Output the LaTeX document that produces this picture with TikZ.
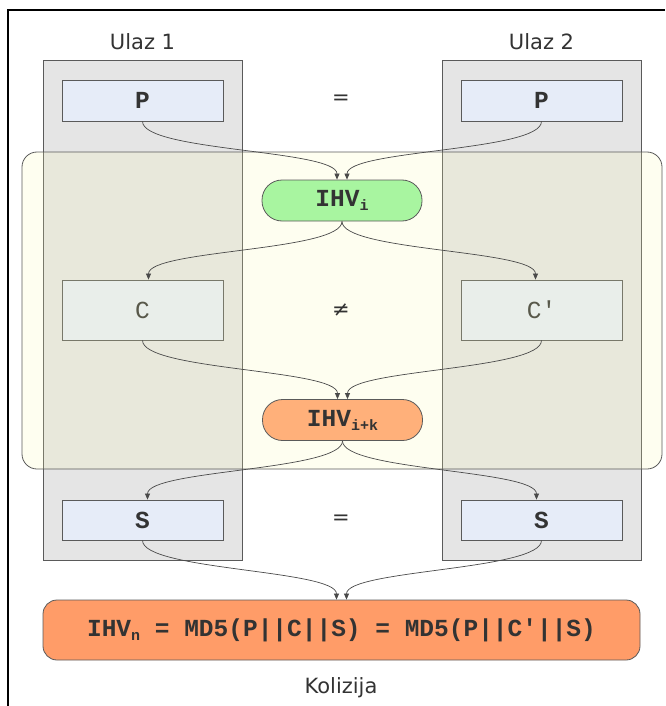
\documentclass[tikz,border=0pt]{standalone}
\usepackage{fontspec}
\setmainfont{DejaVu Sans}
\newfontfamily\monof{Liberation Mono}
\usetikzlibrary{arrows.meta}
\definecolor{colgray}{HTML}{E5E5E5}
\definecolor{linegray}{HTML}{5A5A5A}
\definecolor{edgegray}{HTML}{4A4A4A}
\definecolor{boxblue}{HTML}{E6ECF8}
\definecolor{ylw}{HTML}{FAFAB0}
\definecolor{greenfill}{HTML}{A8F5A0}
\definecolor{orangeA}{HTML}{FFB07A}
\definecolor{orangeB}{HTML}{FF9C68}
\definecolor{txt}{HTML}{333333}
\newcommand\sbs[1]{\raisebox{-4pt}{\fontsize{15}{15}\selectfont #1}}
\tikzset{
  colbox/.style={draw=linegray, fill=colgray, line width=0.8pt, minimum width=199pt, minimum height=500pt, inner sep=0pt},
  databox/.style={draw=linegray, fill=boxblue, line width=0.8pt, minimum width=161pt, inner sep=0pt,
     text=txt, font=\monof\fontsize{24.5}{26}\selectfont},
  ihvbox/.style={draw=linegray, line width=0.8pt, rounded corners=20pt, minimum width=160pt, minimum height=41pt,
     inner sep=0pt, text=txt, font=\monof\bfseries\fontsize{24.5}{26}\selectfont},
  lbl/.style={font=\fontsize{21}{24}\selectfont, text=txt, inner sep=0pt},
  arr/.style={draw=edgegray, line width=0.7pt, -{Triangle[length=6pt,width=5pt]}}
}
\begin{document}
\begin{tikzpicture}[x=1pt,y=-1pt]
\useasboundingbox (0,0) rectangle (665,706);
% outer frame
\draw[line width=2pt, black] (8,706) -- (8,10) -- (665,10);
% columns
\node[colbox] (col1) at (142.5,310) {};
\node[colbox] (col2) at (541.5,310) {};
% data boxes
\node[databox, minimum height=41pt, font=\monof\bfseries\fontsize{24.5}{26}\selectfont] (p1) at (142.5,100.5) {P};
\node[databox, minimum height=41pt, font=\monof\bfseries\fontsize{24.5}{26}\selectfont] (p2) at (541.5,100.5) {P};
\node[databox, minimum height=60pt] (c1) at (142.5,310) {C};
\node[databox, minimum height=60pt] (c2) at (541.5,310) {C′};
\node[databox, minimum height=40pt, font=\monof\bfseries\fontsize{24.5}{26}\selectfont] (s1) at (142.5,520) {S};
\node[databox, minimum height=40pt, font=\monof\bfseries\fontsize{24.5}{26}\selectfont] (s2) at (541.5,520) {S};
% yellow overlay
\node[draw=linegray, line width=0.8pt, fill=ylw, fill opacity=0.19, rounded corners=15pt,
      minimum width=640pt, minimum height=317pt, inner sep=0pt] (round) at (342,310.5) {};
% IHV nodes
\node[ihvbox, fill=greenfill] (ihvi) at (342,200.5) {IHV\sbs{i}};
\node[ihvbox, fill=orangeA] (ihvk) at (342.5,420) {IHV\sbs{i+k}};
\node[ihvbox, fill=orangeB, rounded corners=14pt, minimum width=597pt, minimum height=60pt] (fin) at (341.5,630)
  {IHV\sbs{n} = MD5(P||C||S) = MD5(P||C′||S)};
% labels
\node[lbl, anchor=base] (u1) at (142.5,50) {Ulaz 1};
\node[lbl, anchor=base] (u2) at (541.5,50) {Ulaz 2};
\node[lbl] (eq1) at (341,100) {=};
\node[lbl] (neq) at (341,310) {≠};
\node[lbl] (eq2) at (341,520) {=};
\node[lbl, anchor=base] (kol) at (341,693) {Kolizija};
% edges
\draw[arr] (p1.south) .. controls +(0,30) and +(0,-30) .. ([xshift=-5pt]ihvi.north);
\draw[arr] (p2.south) .. controls +(0,30) and +(0,-30) .. ([xshift=5pt]ihvi.north);
\draw[arr] (ihvi.south) .. controls +(0,30) and +(0,-30) .. ([xshift=6pt]c1.north);
\draw[arr] (ihvi.south) .. controls +(0,30) and +(0,-30) .. ([xshift=-6pt]c2.north);
\draw[arr] (c1.south) .. controls +(0,30) and +(0,-30) .. ([xshift=-5pt]ihvk.north);
\draw[arr] (c2.south) .. controls +(0,30) and +(0,-30) .. ([xshift=5pt]ihvk.north);
\draw[arr] (ihvk.south) .. controls +(0,30) and +(0,-30) .. ([xshift=5pt]s1.north);
\draw[arr] (ihvk.south) .. controls +(0,30) and +(0,-30) .. ([xshift=-5pt]s2.north);
\draw[arr] (s1.south) .. controls +(0,30) and +(0,-30) .. ([xshift=-5pt]fin.north);
\draw[arr] (s2.south) .. controls +(0,30) and +(0,-30) .. ([xshift=5pt]fin.north);
\end{tikzpicture}
\end{document}
